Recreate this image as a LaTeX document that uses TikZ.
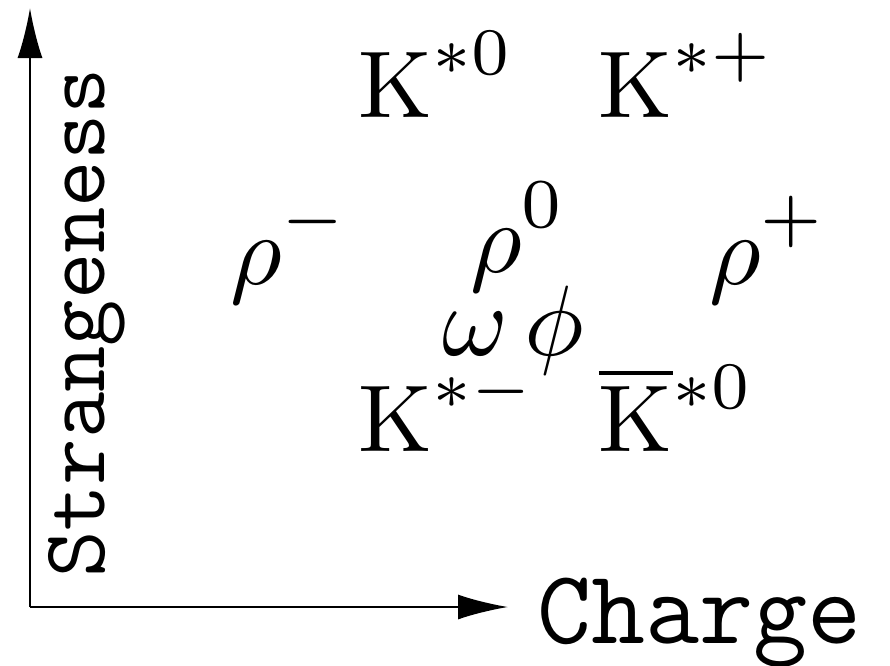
\documentclass[tikz,border=0pt]{standalone}
\usetikzlibrary{arrows.meta}
\newcommand\upsup[1]{^{\raisebox{0.85pt}{$\scriptstyle #1$}}}
\begin{document}
\begin{tikzpicture}[x=1pt,y=-1pt,
  axis/.style={line width=2pt,-{Latex[length=50pt,width=25pt]}},
  meson/.style={anchor=base west,inner sep=0pt,scale=9.5,font=\fontsize{10}{12}\selectfont},
  greek/.style={anchor=base west,inner sep=0pt,scale=10,font=\fontsize{10}{12}\selectfont},
  axlabel/.style={inner sep=0pt,font=\ttfamily\fontsize{105}{105}\selectfont}]
\useasboundingbox (0,0) rectangle (890,665);
\coordinate (O) at (30,607);
\coordinate (ytip) at (30,8);
\coordinate (xtip) at (508,607);
\draw[axis] (O) -- (ytip);
\draw[axis] (O) -- (xtip);
\node[axlabel,anchor=base west] (charge) at (537,643) {Charge};
\node[axlabel,font=\ttfamily\fontsize{90}{90}\selectfont,rotate=90,anchor=base west] (strange) at (104,578) {Strangeness};
\node[meson] (k0) at (357,117) {$\mathrm{K}\upsup{*0}$};
\node[meson] (kp) at (597,117) {$\mathrm{K}\upsup{*+}$};
\node[greek] (rm) at (228,284) {$\rho\upsup{-}$};
\node[greek] (r0) at (468,272) {$\rho\upsup{0}$};
\node[greek] (rp) at (707,284) {$\rho\upsup{+}$};
\node[greek] (om) at (440,355) {$\omega\,\phi$};
\node[meson] (km) at (357,451) {$\mathrm{K}\upsup{*-}$};
\node[meson] (kb) at (597,451) {${\overline{\mathrm{K}}}{}\upsup{*0}$};
\end{tikzpicture}
\end{document}
